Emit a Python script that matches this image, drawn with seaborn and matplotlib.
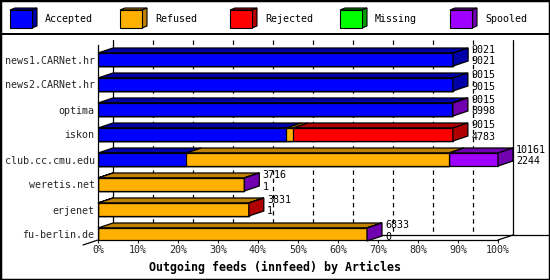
import numpy as np
import pandas as pd
import matplotlib
matplotlib.use("Agg")
import matplotlib.pyplot as plt
import seaborn as sns
from matplotlib.patches import Polygon, Rectangle
from matplotlib.lines import Line2D

# ---------------- data ----------------
feeds = ["news1.CARNet.hr", "news2.CARNet.hr", "optima", "iskon",
         "club.cc.cmu.edu", "weretis.net", "erjenet", "fu-berlin.de"]
accepted = [9021, 9015, 8998, 4783, 2244, 1, 1, 0]
refused = [0, 0, 0, 170, 6672, 3714, 3829, 6832]
rejected = [0, 0, 0, 4062, 0, 0, 1, 0]
missing = [0, 0, 0, 0, 0, 0, 0, 0]
spooled = [0, 0, 17, 0, 1245, 1, 0, 1]
offered = [9021, 9015, 9015, 9015, 10161, 3716, 3831, 6833]
categories = ["Accepted", "Refused", "Rejected", "Missing", "Spooled"]
x_ticks = [0, 10, 20, 30, 40, 50, 60, 70, 80, 90, 100]
x_tick_labels = [f"{t}%" for t in x_ticks]
x_title = "Outgoing feeds (innfeed) by Articles"

front = {"Accepted": "#0000FF", "Refused": "#FFB000", "Rejected": "#FF0000",
         "Missing": "#00FF00", "Spooled": "#A000FF"}
dark = {"Accepted": "#0000A8", "Refused": "#C08000", "Rejected": "#B00000",
        "Missing": "#00A000", "Spooled": "#7000B0"}

# ---------------- style ----------------
sns.set_theme(style="white")
plt.rcParams["font.family"] = ["DejaVu Sans Mono"]
FS = 7.2

W, H = 550, 280
fig = plt.figure(figsize=(W / 100, H / 100), dpi=100)
fig.patch.set_facecolor("white")

def fx(x):
    return x / W

def fy(y):
    return 1 - y / H

# axes: x pixel 98..513 <-> 0..103.75 ; y pixel 40..240 <-> -0.78..7.22
DX = 3.75      # depth offset in x (percent units)
DY = 0.2       # depth offset in y (row units)
BH = 0.52      # front-face bar height
Y_TOP, Y_BOT = -0.78, 7.22
ax = fig.add_axes([fx(98), fy(240), fx(513) - fx(98), (240 - 40) / H])
ax.set_facecolor("none")

vals = np.array([accepted, refused, rejected, missing, spooled], dtype=float)
scale = max(offered)
cum = np.cumsum(vals, axis=0) / scale * 100.0

# back-plane grid (dashed) and frame
for t in x_ticks[1:-1]:
    ax.add_line(Line2D([t + DX, t + DX], [Y_TOP, Y_BOT - DY], color="black",
                       lw=0.9, dashes=(3.5, 3), zorder=0.5, clip_on=False))
for t in (0, 100):
    ax.add_line(Line2D([t + DX, t + DX], [Y_TOP, Y_BOT - DY], color="black",
                       lw=0.9, zorder=0.5, clip_on=False))
ax.add_line(Line2D([DX, 113], [Y_BOT - DY, Y_BOT - DY], color="black",
                   lw=0.9, zorder=0.5, clip_on=False))
ax.add_line(Line2D([-DX, DX], [Y_BOT + DY, Y_BOT - DY], color="black",
                   lw=0.9, zorder=0.5, clip_on=False))
ax.add_line(Line2D([100, 100 + DX], [Y_BOT, Y_BOT - DY], color="black",
                   lw=0.9, zorder=0.5, clip_on=False))

# front faces: overlaid cumulative bars drawn by seaborn
for k in range(len(categories) - 1, -1, -1):
    sns.barplot(x=cum[k], y=feeds, order=feeds, orient="h", color=front[categories[k]],
                saturation=1, width=BH, edgecolor="black", linewidth=0.9,
                errorbar=None, ax=ax, zorder=3)

# top faces and end caps
for i in range(len(feeds)):
    top = i - BH / 2
    bot = i + BH / 2
    starts = np.concatenate([[0.0], cum[:-1, i]])
    last = None
    for k, cat in enumerate(categories):
        x0, x1 = starts[k], cum[k, i]
        if vals[k, i] <= 0:
            continue
        last = cat
        ax.add_patch(Polygon([(x0, top), (x1, top), (x1 + DX, top - DY), (x0 + DX, top - DY)],
                             closed=True, facecolor=dark[cat], edgecolor="black",
                             lw=0.9, zorder=2, clip_on=False))
    e = cum[-1, i]
    ax.add_patch(Polygon([(e, top), (e + DX, top - DY), (e + DX, bot - DY), (e, bot)],
                         closed=True, facecolor=dark[last], edgecolor="black",
                         lw=0.9, zorder=4, clip_on=False))
    ax.text(e + DX + 0.8, i - 0.38, f"{offered[i]}", fontsize=FS, ha="left",
            va="center", color="black", zorder=5)
    ax.text(e + DX + 0.8, i + 0.08, f"{accepted[i]}", fontsize=FS, ha="left",
            va="center", color="black", zorder=5)

ax.set_xlim(0, 100 + DX)
ax.set_ylim(Y_BOT, Y_TOP)
ax.set_xticks(x_ticks)
ax.set_xticklabels(x_tick_labels, fontsize=FS)
ax.set_yticks(range(len(feeds)))
ax.set_yticklabels(feeds, fontsize=FS)
ax.set_xlabel("")
ax.set_ylabel("")
ax.tick_params(axis="x", length=2.2, width=0.8, pad=1.5, direction="out", bottom=True)
ax.tick_params(axis="y", length=0, pad=2.5)
for s in ("top", "right"):
    ax.spines[s].set_visible(False)
ax.spines["bottom"].set_bounds(0, 100)
ax.spines["left"].set_bounds(Y_BOT, Y_TOP + DY)
for s in ("bottom", "left"):
    ax.spines[s].set_color("black")
    ax.spines[s].set_linewidth(0.9)
    ax.spines[s].set_zorder(6)

fig.text(0.5, fy(267), x_title, fontsize=8.4, fontweight="bold",
         ha="center", va="center", color="black")

# legend strip
for j, cat in enumerate(categories):
    x = 10 + 110 * j
    fig.add_artist(Polygon([(fx(x), fy(10)), (fx(x + 5), fy(8)), (fx(x + 27), fy(8)),
                            (fx(x + 22), fy(10))], closed=True, facecolor=dark[cat],
                           edgecolor="black", lw=0.8, transform=fig.transFigure))
    fig.add_artist(Polygon([(fx(x + 22), fy(10)), (fx(x + 27), fy(8)), (fx(x + 27), fy(26)),
                            (fx(x + 22), fy(28))], closed=True, facecolor=dark[cat],
                           edgecolor="black", lw=0.8, transform=fig.transFigure))
    fig.add_artist(Rectangle((fx(x), fy(28)), fx(22), 18 / H, facecolor=front[cat],
                             edgecolor="black", lw=0.8, transform=fig.transFigure))
    fig.text(fx(x + 35), fy(19.5), cat, fontsize=FS, ha="left", va="center", color="black")

fig.add_artist(Line2D([0, 1], [fy(34), fy(34)], color="black", lw=1.4,
                      transform=fig.transFigure))
fig.add_artist(Rectangle((0, 0), 1, 1, fill=False, edgecolor="black", lw=2.5,
                         transform=fig.transFigure))

fig.savefig("out.png", dpi=100, facecolor="white")
